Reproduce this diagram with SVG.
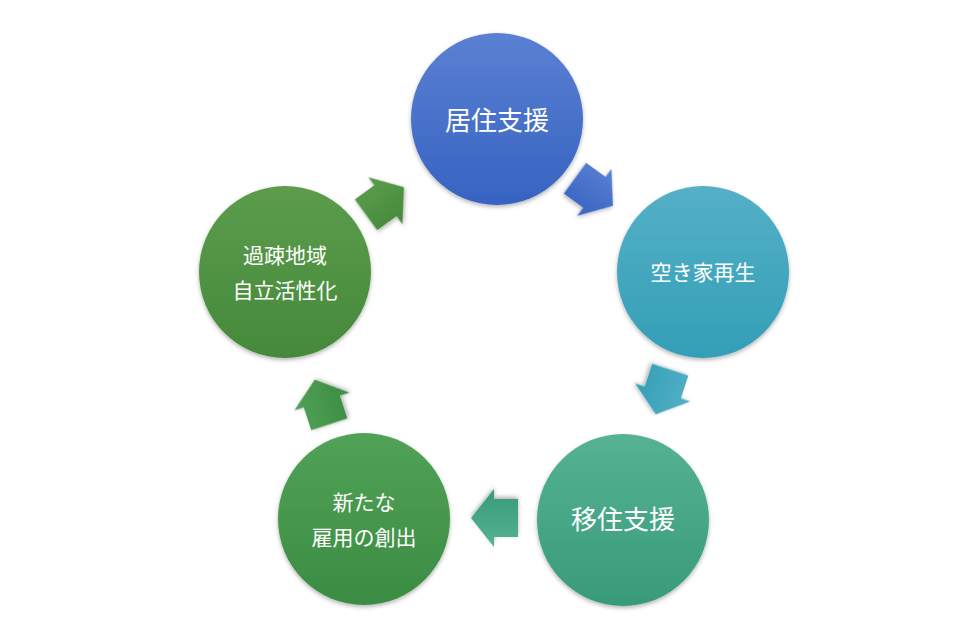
<svg xmlns="http://www.w3.org/2000/svg" width="960" height="639" viewBox="0 0 960 639">
  <defs>
    <linearGradient id="gBlue" x1="0" y1="0" x2="0" y2="1">
      <stop offset="0" stop-color="#5a80d2"/>
      <stop offset="1" stop-color="#3763c2"/>
    </linearGradient>
    <linearGradient id="gTeal" x1="0" y1="0" x2="0" y2="1">
      <stop offset="0" stop-color="#54b0c6"/>
      <stop offset="1" stop-color="#339fb7"/>
    </linearGradient>
    <linearGradient id="gSea" x1="0" y1="0" x2="0" y2="1">
      <stop offset="0" stop-color="#55b292"/>
      <stop offset="1" stop-color="#389b79"/>
    </linearGradient>
    <linearGradient id="gGreen" x1="0" y1="0" x2="0" y2="1">
      <stop offset="0" stop-color="#51a257"/>
      <stop offset="1" stop-color="#3b8c43"/>
    </linearGradient>
    <linearGradient id="gOlive" x1="0" y1="0" x2="0" y2="1">
      <stop offset="0" stop-color="#5c9c4c"/>
      <stop offset="1" stop-color="#45893b"/>
    </linearGradient>
    <filter id="sh" x="-20%" y="-20%" width="140%" height="140%">
      <feDropShadow dx="0" dy="2" stdDeviation="2" flood-color="#000" flood-opacity="0.3"/>
    </filter>
    <path id="arr" d="M-23.5,-19 L0.5,-19 L0.5,-29 L23.5,0 L0.5,29 L0.5,19 L-23.5,19 Z"/>
  </defs>
  <style>
    .node circle { filter: url(#sh); }
    .lbl { fill: #ffffff; font-family: "Noto Sans CJK JP", "Noto Sans CJK SC", sans-serif; text-anchor: middle; dominant-baseline: central; }
    .big { font-size: 26px; }
    .mid { font-size: 21px; }
    .conn use { filter: url(#sh); }
  </style>
  <rect width="960" height="639" fill="#ffffff"/>

  <g id="connectors" class="conn">
    <use href="#arr" fill="url(#gBlue)" transform="translate(594,192) rotate(36)"/>
    <use href="#arr" fill="url(#gTeal)" transform="translate(663,392) rotate(108)"/>
    <use href="#arr" fill="url(#gSea)" transform="translate(494.5,518) rotate(180)"/>
    <use href="#arr" fill="url(#gGreen)" transform="translate(322,402) rotate(252)"/>
    <use href="#arr" fill="url(#gOlive)" transform="translate(385,201) rotate(-36)"/>
  </g>

  <g id="node-kyoju" class="node">
    <circle cx="497" cy="119" r="86" fill="url(#gBlue)"/>
    <text class="lbl big" x="497" y="118">居住支援</text>
  </g>
  <g id="node-akiya" class="node">
    <circle cx="703" cy="272" r="86" fill="url(#gTeal)"/>
    <text class="lbl mid" x="703" y="271">空き家再生</text>
  </g>
  <g id="node-iju" class="node">
    <circle cx="623" cy="520" r="86" fill="url(#gSea)"/>
    <text class="lbl big" x="623" y="517">移住支援</text>
  </g>
  <g id="node-koyo" class="node">
    <circle cx="364" cy="519" r="86" fill="url(#gGreen)"/>
    <text class="lbl mid" x="364" y="501">新たな</text>
    <text class="lbl mid" x="364" y="536">雇用の創出</text>
  </g>
  <g id="node-kaso" class="node">
    <circle cx="285" cy="272" r="86" fill="url(#gOlive)"/>
    <text class="lbl mid" x="285" y="254">過疎地域</text>
    <text class="lbl mid" x="285" y="289">自立活性化</text>
  </g>
</svg>
